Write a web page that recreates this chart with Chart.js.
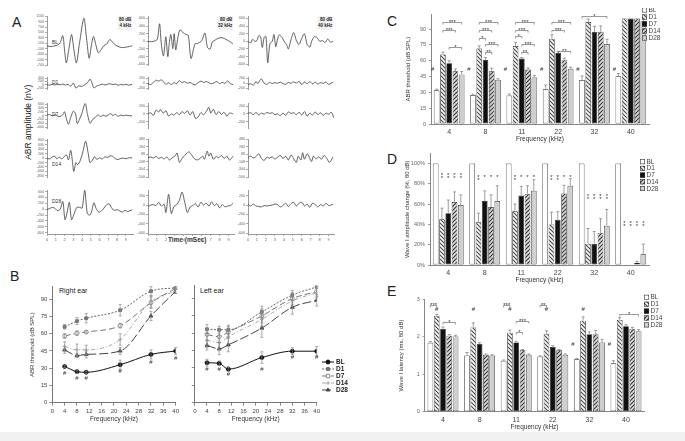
<!DOCTYPE html>
<html>
<head>
<meta charset="utf-8">
<script src="https://cdn.jsdelivr.net/npm/chart.js@4.4.0/dist/chart.umd.min.js"></script>
<style>
  body { margin: 0; width: 685px; height: 441px; position: relative; background: #fff; overflow: hidden;
         font-family: 'Liberation Sans', Arial, sans-serif; color: #222; }
  canvas { position: absolute; }
  .t { position: absolute; white-space: nowrap; line-height: 1; }
  .letter { font-size: 14px; }
  .rot { position: absolute; text-align: center; transform: rotate(-90deg); white-space: nowrap; line-height: 1; }
</style>
</head>
<body>
<div style="position:absolute;left:0;top:432px;width:685px;height:9px;background:#f1f1f1"></div>

<div class="t letter" style="left:12px;top:15px">A</div>
<div class="t letter" style="left:10px;top:269px">B</div>
<div class="t letter" style="left:387px;top:14px">C</div>
<div class="t letter" style="left:387px;top:152px">D</div>
<div class="t letter" style="left:387px;top:284px">E</div>

<div class="rot" style="left:-22px;top:118px;width:100px;font-size:8.5px">ABR amplitude (nV)</div>
<div class="t" style="left:168px;top:237px;font-size:6.5px;font-weight:bold;color:#333">Time (mSec)</div>

<div class="t" style="left:52px;top:40px;font-size:5px;color:#333">BL</div>
<div class="t" style="left:52px;top:80px;font-size:5px;color:#333">D1</div>
<div class="t" style="left:52px;top:112px;font-size:5px;color:#333">D7</div>
<div class="t" style="left:52px;top:162px;font-size:5px;color:#333">D14</div>
<div class="t" style="left:52px;top:199px;font-size:5px;color:#333">D28</div>

<div class="t" style="left:118px;top:16px;padding:1px;background:#f2f2f2;font-size:4.5px;font-weight:bold;text-align:right;line-height:6px">80 dB<br>4 kHz</div>
<div class="t" style="left:217px;top:16px;padding:1px;background:#f2f2f2;font-size:4.5px;font-weight:bold;text-align:right;line-height:6px">80 dB<br>32 kHz</div>
<div class="t" style="left:317px;top:16px;padding:1px;background:#f2f2f2;font-size:4.5px;font-weight:bold;text-align:right;line-height:6px">80 dB<br>40 kHz</div>

<div class="t" style="left:59px;top:287px;font-size:7px">Right ear</div>
<div class="t" style="left:200px;top:287px;font-size:7px">Left ear</div>

<script>
// ---------- data ----------
const groups = ['BL', 'D1', 'D7', 'D14', 'D28'];
const freqLabels = ['4', '8', '11', '22', '32', '40'];
const freqKHz = [4, 8, 11, 22, 32, 40];

// panel A traces, [time ms, amplitude nV]
const w4kBL = [[0,0],[0.5,-20],[0.9,10],[1.2,30],[1.5,120],[1.8,380],[2.0,-150],[2.2,-620],[2.5,-100],[2.8,420],[3.05,-100],[3.35,-620],[3.7,100],[4.2,1020],[4.5,300],[4.8,-450],[5.05,0],[5.3,350],[5.6,0],[5.85,-250],[6.2,-120],[6.5,20],[6.8,70],[7.15,240],[7.4,170],[7.7,60],[8.0,0],[8.3,-40],[8.6,-60],[9.0,-40],[9.4,-20],[9.7,10]];
const w4kD1 = [[0,20],[0.3,-20],[0.6,30],[0.9,-10],[1.2,20],[1.5,0],[1.8,40],[2.1,-10],[2.4,20],[2.7,-80],[3.0,100],[3.3,-200],[3.6,-60],[3.9,-100],[4.2,-30],[4.6,120],[4.9,330],[5.1,150],[5.35,-180],[5.7,-60],[6.0,-20],[6.3,40],[6.6,-10],[6.9,30],[7.2,60],[7.5,10],[7.8,40],[8.1,-30],[8.4,20],[8.7,-10],[9.0,30],[9.3,-20],[9.7,20]];
const w4kD7 = [[0,20],[0.3,60],[0.6,-20],[0.9,40],[1.2,-30],[1.5,-50],[1.8,50],[2.0,200],[2.2,-150],[2.45,-450],[2.7,-100],[3.0,230],[3.25,100],[3.45,-420],[3.7,-200],[4.0,150],[4.35,640],[4.6,100],[4.9,-400],[5.2,-200],[5.5,-100],[5.8,40],[6.1,-50],[6.4,20],[6.7,-30],[7.0,40],[7.3,100],[7.5,0],[7.8,60],[8.1,-40],[8.4,30],[8.7,-10],[9.0,20],[9.4,-10],[9.7,0]];
const w4kD14 = [[0,0],[0.3,-40],[0.6,50],[0.9,80],[1.1,-30],[1.4,40],[1.7,-30],[2.0,80],[2.2,150],[2.45,-80],[2.7,350],[2.9,-150],[3.05,-600],[3.3,-200],[3.5,-300],[3.8,-100],[4.1,300],[4.4,760],[4.7,200],[4.9,-200],[5.2,-80],[5.4,60],[5.7,-60],[6.0,10],[6.3,-40],[6.6,60],[6.9,30],[7.2,100],[7.5,80],[7.8,-40],[8.1,-60],[8.4,-20],[8.7,0],[9.0,-30],[9.4,20],[9.7,0]];
const w4kD28 = [[0,-10],[0.3,20],[0.6,60],[0.9,30],[1.2,-50],[1.5,0],[1.8,260],[2.05,-360],[2.3,-100],[2.55,230],[2.8,-360],[3.1,-150],[3.4,60],[3.7,60],[4.0,40],[4.3,650],[4.6,-150],[4.9,-200],[5.1,-60],[5.35,220],[5.6,20],[5.9,-100],[6.2,-60],[6.5,40],[6.8,150],[7.1,180],[7.4,20],[7.7,-40],[8.0,-20],[8.3,-60],[8.6,-100],[8.9,-40],[9.2,-80],[9.7,-20]];

const w32kBL = [[0,0],[0.4,-10],[0.8,14],[1.05,60],[1.29,460],[1.5,-100],[1.73,-380],[1.99,120],[2.21,-400],[2.4,0],[2.55,180],[2.77,-190],[2.92,200],[3.1,-220],[3.35,120],[3.58,300],[3.95,220],[4.2,185],[4.5,150],[4.8,-450],[5.24,-70],[5.53,-55],[5.98,14],[6.35,220],[6.64,-160],[6.94,-200],[7.16,-20],[7.38,14],[7.82,80],[8.27,95],[8.75,47],[9.22,-20],[9.48,-70]];
const w32kD1 = [[0,-20],[0.3,-60],[0.6,30],[0.9,120],[1.2,80],[1.5,130],[1.8,20],[2.0,-50],[2.3,10],[2.6,-60],[2.9,20],[3.2,-30],[3.5,100],[3.8,20],[4.1,60],[4.4,-10],[4.7,30],[5.0,-40],[5.3,-70],[5.6,20],[5.9,80],[6.2,30],[6.5,60],[6.8,10],[7.1,-30],[7.4,20],[7.7,60],[8.0,-20],[8.3,30],[8.6,-10],[8.9,90],[9.2,-30],[9.5,-60]];
const w32kD7 = [[0,-10],[0.3,30],[0.6,-40],[0.9,100],[1.2,50],[1.4,110],[1.7,20],[2.0,80],[2.3,-60],[2.6,0],[2.9,-30],[3.2,30],[3.5,-20],[3.8,60],[4.1,10],[4.4,80],[4.7,-30],[5.0,60],[5.3,-120],[5.6,-80],[5.9,30],[6.2,-20],[6.5,60],[6.8,170],[7.0,20],[7.3,120],[7.6,-20],[7.9,60],[8.2,-10],[8.5,40],[8.8,-60],[9.1,20],[9.5,0]];
const w32kD14 = [[0,0],[0.3,20],[0.6,-10],[0.9,30],[1.2,-20],[1.5,10],[1.8,-30],[2.1,20],[2.4,-60],[2.7,0],[3.0,40],[3.25,120],[3.5,-120],[3.8,-20],[4.1,60],[4.4,130],[4.6,150],[4.9,60],[5.2,-30],[5.5,-60],[5.8,-20],[6.1,40],[6.3,-40],[6.6,170],[6.8,40],[7.0,120],[7.3,-40],[7.6,30],[7.9,0],[8.2,60],[8.5,-20],[8.8,40],[9.1,-60],[9.5,40]];
const w32kD28 = [[0,-30],[0.3,0],[0.6,10],[0.9,-10],[1.2,60],[1.5,-20],[1.8,20],[2.0,-160],[2.3,230],[2.6,-180],[2.9,-30],[3.2,10],[3.5,100],[3.8,280],[4.1,60],[4.4,-160],[4.7,-40],[5.0,-10],[5.3,30],[5.6,-40],[5.9,60],[6.2,0],[6.5,40],[6.8,-20],[7.1,70],[7.4,-10],[7.7,30],[8.0,-60],[8.3,10],[8.6,-40],[8.9,-20],[9.2,-10],[9.5,40]];

const w40kBL = [[0,0],[0.3,-40],[0.5,50],[0.8,0],[1.0,20],[1.2,150],[1.4,120],[1.6,-160],[1.8,100],[2.0,130],[2.2,-560],[2.45,-60],[2.7,0],[2.9,180],[3.1,-140],[3.3,60],[3.5,170],[3.8,100],[4.1,-20],[4.3,-80],[4.5,-200],[4.8,40],[5.1,230],[5.4,20],[5.7,-80],[6.0,80],[6.3,200],[6.6,-80],[6.9,-150],[7.1,0],[7.4,120],[7.7,100],[8.0,0],[8.3,20],[8.6,-30],[8.9,60],[9.2,-20],[9.5,0]];
const w40kD1 = [[0,-60],[0.3,-30],[0.6,-80],[0.9,60],[1.1,-20],[1.3,100],[1.5,170],[1.7,40],[1.9,-20],[2.1,-50],[2.4,30],[2.7,-20],[3.0,20],[3.3,-10],[3.6,40],[3.9,-20],[4.2,-50],[4.5,30],[4.8,-10],[5.1,50],[5.4,0],[5.7,70],[6.0,-60],[6.3,40],[6.6,-20],[6.9,60],[7.2,-30],[7.5,30],[7.8,-40],[8.1,20],[8.4,-10],[8.7,40],[9.0,-50],[9.5,40]];
const w40kD7 = [[0,10],[0.3,30],[0.6,-20],[0.9,40],[1.2,-30],[1.5,20],[1.8,-10],[2.1,40],[2.4,10],[2.7,30],[3.0,-20],[3.3,0],[3.6,-50],[3.9,20],[4.2,-40],[4.5,50],[4.8,10],[5.1,30],[5.4,-20],[5.7,40],[6.0,-30],[6.3,60],[6.6,-60],[6.9,20],[7.2,-30],[7.5,50],[7.8,-20],[8.1,30],[8.4,-40],[8.7,20],[9.0,-10],[9.3,40],[9.6,-110]];
const w40kD14 = [[0,0],[0.3,40],[0.6,-10],[0.9,30],[1.2,100],[1.5,-20],[1.8,-70],[2.1,10],[2.4,-10],[2.7,20],[3.0,-30],[3.3,10],[3.6,60],[3.9,-20],[4.2,40],[4.5,-60],[4.8,70],[5.1,-30],[5.4,-120],[5.6,40],[5.9,-60],[6.1,130],[6.3,-40],[6.6,100],[6.9,-20],[7.1,-100],[7.3,40],[7.6,-30],[7.9,20],[8.2,-40],[8.5,60],[8.8,-20],[9.1,-120],[9.5,20]];
const w40kD28 = [[0,10],[0.3,-20],[0.6,20],[0.9,-20],[1.2,-30],[1.5,-40],[1.8,-10],[2.1,-20],[2.4,-10],[2.7,0],[3.0,20],[3.3,10],[3.6,-40],[3.9,-10],[4.2,40],[4.5,-30],[4.8,30],[5.1,60],[5.4,-20],[5.7,40],[6.0,60],[6.3,-20],[6.6,20],[6.9,-50],[7.2,40],[7.5,10],[7.8,-40],[8.1,10],[8.4,-20],[8.7,40],[9.0,-10],[9.5,20]];

// panel B thresholds (dB SPL) and SEM
const rightBL = [31.5, 27, 26.5, 33, 42, 45];
const rightD1 = [66, 71, 73.5, 80.5, 97, 100];
const rightD7 = [58, 60.5, 61.5, 67, 87, 99.5];
const rightD14 = [49, 46, 46, 55, 88, 97];
const rightD28 = [46, 41, 42, 45, 75.5, 97];
const rightErr = [[1, 1.5, 1, 4, 4, 3], [2, 3, 4, 5, 4, 1], [2, 2, 1, 2, 5, 1], [4, 5, 4, 5, 5, 2], [3, 2, 3, 3, 4, 2]];
const leftBL = [34.5, 34, 29, 39, 44.5, 44.5];
const leftD1 = [63.5, 63, 63, 78.5, 93, 100];
const leftD7 = [59, 57, 61, 75, 90, 96];
const leftD14 = [54, 52, 57, 72, 88, 95];
const leftD28 = [49.5, 46.5, 50, 64.5, 82.5, 88.5];
const leftErr = [[3, 2, 2, 5, 3, 4], [4, 3, 4, 5, 4, 1], [5, 5, 5, 6, 5, 4], [6, 6, 6, 6, 5, 4], [4, 5, 6, 8, 6, 5]];

// panel C thresholds
const threshBL = [32, 27.5, 27, 33, 41.6, 45.3];
const threshD1 = [66, 71.5, 74, 80.7, 96.6, 100];
const threshD7 = [57.5, 61, 62, 67.3, 87.5, 100];
const threshD14 = [50, 50, 51.7, 61, 87.5, 100];
const threshD28 = [46.8, 42, 44, 52.3, 75.8, 97.5];
const threshErr = [[1, 0.8, 1.5, 4, 4, 2.5], [2, 2.5, 3.5, 4, 3, 0], [2.5, 2, 1, 1.5, 5, 0], [2, 3, 1.5, 1.5, 5.5, 0], [3, 1, 2, 1.5, 4.5, 1.5]];

// panel D wave I amplitude (% of BL)
const ampBL = [100, 100, 100, 100, 100, 100];
const ampD1 = [45, 42, 53, 40, 21, 0];
const ampD7 = [51, 63, 68.5, 44.5, 21, 0];
const ampD14 = [62, 57, 70, 70.5, 31.6, 2];
const ampD28 = [59, 63, 73, 78, 38.7, 10.6];
const ampErr = [[0, 0, 0, 0, 0, 0], [11, 9, 7, 12, 15, 0], [13, 10, 9, 8, 12, 0], [10, 12, 8, 8, 14, 1.5], [10, 15, 11, 7, 16, 10]];

// panel E wave I latency (ms)
const latBL = [1.84, 1.5, 1.36, 1.47, 1.4, 1.29];
const latD1 = [2.56, 2.25, 2.11, 2.08, 2.43, 2.45];
const latD7 = [2.21, 1.81, 1.85, 1.73, 2.07, 2.28];
const latD14 = [2.03, 1.52, 1.64, 1.64, 2.07, 2.21];
const latD28 = [2.01, 1.5, 1.52, 1.52, 1.85, 2.15];
const latErr = [[0.03, 0.08, 0.02, 0.02, 0.02, 0.07], [0.04, 0.12, 0.07, 0.08, 0.1, 0.06], [0.05, 0.03, 0.03, 0.03, 0.06, 0.04], [0.03, 0.02, 0.02, 0.02, 0.1, 0.04], [0.03, 0.02, 0.02, 0.02, 0.08, 0.04]];

// significance marks: [group, fromSeries, toSeries, level, text]
const threshBrackets = [[0,1,4,96.6,'***'],[0,1,3,89,'***'],[0,2,4,72.8,'*'],
  [1,1,4,96.6,'***'],[1,1,3,89,'***'],[1,1,2,82,'*'],[1,2,4,76,'***'],[1,2,3,68.5,'**'],
  [2,1,4,96.6,'***'],[2,1,3,89,'***'],[2,1,2,83,'*'],[2,2,4,76,'***'],[2,2,3,68.5,'**'],
  [3,1,4,96.6,'***'],[3,1,3,89,'***'],[3,2,4,69,'**'],[4,0,4,102.5,'*']];
const threshHashes = [[0,0,52],[1,0,52],[2,0,52],[3,0,52],[4,0,52],[5,0,52]];
// [group, series, number of stacked asterisks, level]
const ampStars = [[0,1,2,90],[0,2,2,90],[0,3,2,90],[0,4,2,90],
  [1,1,2,88],[1,2,1,88],[1,3,1,88],[1,4,1,88],
  [2,1,2,88],[2,2,1,88],[2,3,1,88],[2,4,1,88],
  [3,1,2,88],[3,2,2,88],[3,3,1,88],[3,4,1,88],
  [4,1,2,69],[4,2,2,69],[4,3,2,69],[4,4,2,69],
  [5,1,2,42],[5,2,2,42],[5,3,2,42],[5,4,2,42]];
const latBrackets = [[0,0,1,2.84,'***'],[0,2,4,2.39,'*'],[2,0,1,2.84,'***'],[2,2,4,2.42,'***'],[2,2,3,2.13,'*'],[3,0,1,2.84,'**'],[5,1,4,2.62,'*']];
const latHashes = [[0,1,2.72],[1,1,2.72],[2,1,2.72],[3,1,2.72],[4,1,2.72],[4,0,1.79],[5,0,1.79]];
const rightHashes = [[4,25.5],[8,21],[11,21],[22,27],[32,35.5],[40,39]];
const leftHashes = [[4,29],[8,29],[11,24.5],[22,29],[32,39],[40,39]];

// ---------- helpers ----------
const FONT = "'Liberation Sans', Arial, sans-serif";
Chart.defaults.font.family = FONT;
Chart.defaults.animation = false;
Chart.defaults.events = [];
Chart.defaults.plugins.legend.display = false;
Chart.defaults.plugins.tooltip.enabled = false;

function hatch(dir, line, bg) {
  const c = document.createElement('canvas');
  c.width = 4; c.height = 4;
  const g = c.getContext('2d');
  g.fillStyle = bg; g.fillRect(0, 0, 4, 4);
  g.strokeStyle = line; g.lineWidth = 1.1;
  g.beginPath();
  if (dir > 0) { g.moveTo(-1, 5); g.lineTo(5, -1); g.moveTo(-1, 1); g.lineTo(1, -1); g.moveTo(3, 5); g.lineTo(5, 3); }
  else { g.moveTo(-1, -1); g.lineTo(5, 5); g.moveTo(-1, 3); g.lineTo(1, 5); g.moveTo(3, -1); g.lineTo(5, 1); }
  g.stroke();
  return g.createPattern(c, 'repeat');
}
const barFills = ['#ffffff', hatch(-1, '#444', '#fff'), '#111111', hatch(1, '#333', '#ddd'), '#cfcfcf'];

function addCanvas(left, top, w, h) {
  const cv = document.createElement('canvas');
  cv.width = w; cv.height = h;
  cv.style.left = left + 'px'; cv.style.top = top + 'px';
  document.body.appendChild(cv);
  return cv;
}

const errPlugin = {
  id: 'errbars',
  afterDatasetsDraw(chart, args, opts) {
    const ctx = chart.ctx;
    ctx.save();
    ctx.strokeStyle = opts.color || '#666';
    ctx.lineWidth = 0.7;
    chart.data.datasets.forEach((ds, di) => {
      if (!ds.errs) return;
      const meta = chart.getDatasetMeta(di);
      const ys = chart.scales[meta.yAxisID];
      meta.data.forEach((el, i) => {
        const e = ds.errs[i];
        if (!e) return;
        const v = meta.controller.getParsed(i).y;
        const yt = ys.getPixelForValue(v + e);
        const yb = opts.both ? ys.getPixelForValue(v - e) : el.y;
        const cap = opts.cap || 1.5;
        ctx.beginPath();
        ctx.moveTo(el.x, yb); ctx.lineTo(el.x, yt);
        ctx.moveTo(el.x - cap, yt); ctx.lineTo(el.x + cap, yt);
        if (opts.both) { ctx.moveTo(el.x - cap, yb); ctx.lineTo(el.x + cap, yb); }
        ctx.stroke();
      });
    });
    ctx.restore();
  }
};

const marksPlugin = {
  id: 'marks',
  afterDatasetsDraw(chart, args, opts) {
    const ctx = chart.ctx, ys = chart.scales.y, xs = chart.scales.x;
    const bx = (s, i) => chart.getDatasetMeta(s).data[i].x;
    ctx.save();
    ctx.fillStyle = '#333'; ctx.strokeStyle = '#555'; ctx.lineWidth = 0.6;
    ctx.font = '6px ' + FONT; ctx.textAlign = 'center'; ctx.textBaseline = 'alphabetic';
    (opts.brackets || []).forEach(([i, s1, s2, v, txt]) => {
      const x1 = bx(s1, i), x2 = bx(s2, i), y = Math.round(ys.getPixelForValue(v)) + 0.5;
      ctx.beginPath();
      ctx.moveTo(x1, y + 2); ctx.lineTo(x1, y); ctx.lineTo(x2, y); ctx.lineTo(x2, y + 2);
      ctx.stroke();
      ctx.fillText(txt, (x1 + x2) / 2, y + 1.5);
    });
    ctx.textBaseline = 'middle';
    (opts.hashes || []).forEach(([i, s, v]) => {
      const dx = s === 0 && opts.hashLeft ? -4 : 0;
      ctx.fillText('#', bx(s, i) + dx, ys.getPixelForValue(v));
    });
    (opts.pointHashes || []).forEach(([xv, v]) => {
      ctx.fillText('#', xs.getPixelForValue(xv), ys.getPixelForValue(v));
    });
    ctx.textBaseline = 'alphabetic';
    (opts.stars || []).forEach(([i, s, n, v]) => {
      const y = ys.getPixelForValue(v);
      for (let k = 0; k < n; k++) ctx.fillText('*', bx(s, i), y + 3 + k * 3);
    });
    ctx.restore();
  }
};

const boxLegend = {
  id: 'boxLegend',
  afterDraw(chart, args, opts) {
    if (opts.x === undefined) return;
    const ctx = chart.ctx;
    const ox = parseFloat(chart.canvas.style.left), oy = parseFloat(chart.canvas.style.top);
    ctx.save();
    ctx.font = '6.5px ' + FONT; ctx.textBaseline = 'middle'; ctx.textAlign = 'left';
    chart.data.datasets.forEach((ds, i) => {
      const x = opts.x - ox, y = opts.y - oy + i * opts.step;
      ctx.fillStyle = ds.backgroundColor;
      ctx.fillRect(x, y - 2.5, 5, 5);
      ctx.strokeStyle = '#333'; ctx.lineWidth = 0.6;
      ctx.strokeRect(x + 0.3, y - 2.2, 4.4, 4.4);
      ctx.fillStyle = '#444';
      ctx.fillText(ds.label, x + 6.5, y + 0.3);
    });
    ctx.restore();
  }
};

const lineLegend = {
  id: 'lineLegend',
  afterDraw(chart, args, opts) {
    if (opts.x === undefined) return;
    const ctx = chart.ctx;
    const ox = parseFloat(chart.canvas.style.left), oy = parseFloat(chart.canvas.style.top);
    ctx.save();
    ctx.font = 'bold 6.5px ' + FONT; ctx.textBaseline = 'middle';
    chart.data.datasets.forEach((ds, i) => {
      const x = opts.x - ox, y = opts.y - oy + i * opts.step;
      ctx.strokeStyle = ds.borderColor; ctx.lineWidth = 1;
      ctx.setLineDash(ds.borderDash || []);
      ctx.beginPath(); ctx.moveTo(x, y); ctx.lineTo(x + 12, y); ctx.stroke();
      ctx.setLineDash([]);
      ctx.fillStyle = ds.pointBackgroundColor;
      Chart.helpers.drawPoint(ctx, { pointStyle: ds.pointStyle, radius: 2, rotation: 0, borderWidth: 1 }, x + 6, y);
      ctx.fillStyle = '#222';
      ctx.fillText(ds.label, x + 14, y + 0.3);
    });
    ctx.restore();
  }
};

Chart.register(errPlugin, marksPlugin, boxLegend, lineLegend);

// ---------- panel A ----------
const rowTops = [16, 77, 103, 139, 190];
const rowBots = [75, 99, 138, 187, 234];
const waveCols = [
  { axisX: 47, xMax: 9.8, rows: [[w4kBL, -700, 1100], [w4kD1, -250, 450], [w4kD7, -650, 650], [w4kD14, -850, 850], [w4kD28, -850, 650]] },
  { axisX: 148, xMax: 9.6, rows: [[w32kBL, -620, 660], [w32kD1, -240, 240], [w32kD7, -370, 280], [w32kD14, -500, 480], [w32kD28, -620, 320]] },
  { axisX: 248, xMax: 9.6, rows: [[w40kBL, -620, 660], [w40kD1, -240, 240], [w40kD7, -370, 280], [w40kD14, -500, 480], [w40kD28, -620, 320]] }
];

waveCols.forEach(col => {
  col.rows.forEach(([trace, yMin, yMax], r) => {
    const last = r === 4;
    const yw = 18;
    const cv = addCanvas(col.axisX - yw, rowTops[r] - 3, yw + 86 + 2, rowBots[r] - rowTops[r] + 3 + (last ? 10 : 3));
    new Chart(cv, {
      type: 'line',
      data: { datasets: [{ data: trace.map(p => ({ x: p[0], y: p[1] })), borderColor: '#3a3a3a', borderWidth: 0.8, pointRadius: 0, tension: 0.3 }] },
      options: {
        responsive: false,
        layout: { padding: { top: 3, right: 2, bottom: last ? 0 : 3, left: 0 } },
        scales: {
          x: { type: 'linear', min: 0, max: col.xMax, display: last,
               ticks: { stepSize: 1, includeBounds: false, autoSkip: false, maxRotation: 0, font: { size: 4 }, color: '#666', padding: 1 },
               grid: { drawOnChartArea: false, tickLength: 2, color: '#aaa' }, border: { color: '#999' },
               afterFit: s => { s.height = 10; } },
          y: { min: yMin, max: yMax,
               ticks: { stepSize: 200, includeBounds: false, autoSkip: false, font: { size: 3.6 }, color: '#666', padding: 1, callback: v => String(v) },
               grid: { drawOnChartArea: false, tickLength: 2, color: '#aaa' }, border: { color: '#999' },
               afterFit: s => { s.width = yw; } }
        }
      }
    });
  });
});

// ---------- panel B ----------
const lineStyles = [
  { borderColor: '#111', borderDash: [], pointStyle: 'circle', pointBackgroundColor: '#111', pointRadius: 2 },
  { borderColor: '#666', borderDash: [2, 1.5], pointStyle: 'rect', pointBackgroundColor: '#777', pointRadius: 2 },
  { borderColor: '#777', borderDash: [6, 3], pointStyle: 'circle', pointBackgroundColor: '#fff', pointRadius: 2 },
  { borderColor: '#aaa', borderDash: [4, 2, 1, 2], pointStyle: 'cross', pointBackgroundColor: '#aaa', pointRadius: 2 },
  { borderColor: '#444', borderDash: [9, 3], pointStyle: 'triangle', pointBackgroundColor: '#444', pointRadius: 2.3 }
];

function earChart(left, width, yw, padRight, series, errs, showLabels, hashes, legend) {
  const cv = addCanvas(left, 281, width, 144);
  new Chart(cv, {
    type: 'line',
    data: {
      datasets: series.map((s, i) => Object.assign({
        label: groups[i],
        data: freqKHz.map((f, j) => ({ x: f, y: s[j] })),
        errs: errs[i], borderWidth: 1, pointBorderWidth: 0.8,
        cubicInterpolationMode: 'monotone', pointBorderColor: lineStyles[i].borderColor
      }, lineStyles[i]))
    },
    options: {
      responsive: false,
      layout: { padding: { top: 4.5, right: padRight, bottom: 0, left: 0 } },
      scales: {
        x: { type: 'linear', min: 0, max: 40,
             ticks: { stepSize: 4, autoSkip: false, maxRotation: 0, font: { size: 6 }, color: '#444', padding: 2 },
             grid: { drawOnChartArea: false, tickLength: 3, color: '#888' }, border: { color: '#777' },
             title: { display: true, text: 'Frequency (kHz)', font: { size: 6.5 }, color: '#333', padding: { top: 0, bottom: 2 } },
             afterFit: s => { s.height = 22.3; } },
        y: { min: 0, max: 101,
             ticks: { stepSize: 15, includeBounds: false, display: showLabels, font: { size: 6 }, color: '#444', padding: 2 },
             grid: { drawOnChartArea: false, tickLength: 3, color: '#888' }, border: { color: '#777' },
             title: { display: showLabels, text: 'ABR threshold (dB SPL)', font: { size: 6 }, color: '#333', padding: { top: 4, bottom: 2 } },
             afterFit: s => { s.width = yw; } }
      },
      plugins: {
        errbars: { both: true, cap: 1.5, color: '#888' },
        marks: { pointHashes: hashes },
        lineLegend: legend
      }
    }
  });
}
earChart(25, 156, 27.3, 4.3, [rightBL, rightD1, rightD7, rightD14, rightD28], rightErr, true, rightHashes, {});
earChart(190, 170, 2.7, 43.3, [leftBL, leftD1, leftD7, leftD14, leftD28], leftErr, false, leftHashes, { x: 322, y: 362, step: 7 });

// ---------- panels C, D, E ----------
function barChart(c) {
  const cv = addCanvas(c.left, c.top, c.w, c.h);
  new Chart(cv, {
    type: 'bar',
    data: {
      labels: freqLabels,
      datasets: c.series.map((s, i) => ({
        label: groups[i], data: s, errs: c.errs[i],
        backgroundColor: barFills[i], borderColor: '#222', borderWidth: 0.7, borderSkipped: false,
        barPercentage: 0.9, categoryPercentage: 0.86
      }))
    },
    options: {
      responsive: false,
      layout: { padding: { top: c.padTop, right: c.padRight, bottom: 0, left: 0 } },
      scales: {
        x: { ticks: { font: { size: 7 }, color: '#444', padding: 4 },
             grid: { display: false, drawTicks: false, tickLength: 0 }, border: { color: '#888' },
             title: { display: true, text: 'Frequency (kHz)', font: { size: 6.5 }, color: '#333', padding: { top: 0, bottom: 2 } },
             afterFit: s => { s.height = c.xh; } },
        y: { min: 0, max: c.yMax,
             ticks: { stepSize: c.step, includeBounds: false, font: { size: 5.5 }, color: '#666', padding: 3, callback: c.fmt },
             grid: { drawOnChartArea: false, tickLength: 2, color: '#999' }, border: { color: '#888' },
             title: { display: true, text: c.yTitle, font: { size: 6 }, color: '#333', padding: { top: 4, bottom: 2 } },
             afterFit: s => { s.width = c.yw; } }
      },
      plugins: {
        errbars: { both: false, cap: 1.5, color: '#777' },
        marks: c.marks,
        boxLegend: c.legend
      }
    }
  });
}

barChart({ left: 401, top: 8, w: 284, h: 137, padTop: 4, padRight: 36, yw: 30, xh: 21,
  series: [threshBL, threshD1, threshD7, threshD14, threshD28], errs: threshErr,
  yMax: 104, step: 15, fmt: v => v, yTitle: 'ABR threshold (dB SPL)',
  marks: { brackets: threshBrackets, hashes: threshHashes, hashLeft: true },
  legend: { x: 642, y: 10, step: 7 } });

barChart({ left: 400, top: 147, w: 285, h: 139, padTop: 4.4, padRight: 36, yw: 30, xh: 21,
  series: [ampBL, ampD1, ampD7, ampD14, ampD28], errs: ampErr,
  yMax: 110, step: 20, fmt: v => v + '%', yTitle: 'Wave I amplitude change (%, 80 dB)',
  marks: { stars: ampStars },
  legend: { x: 640, y: 161.7, step: 6.7 } });

barChart({ left: 394, top: 293, w: 291, h: 140, padTop: 4.3, padRight: 40.7, yw: 30.7, xh: 21.3,
  series: [latBL, latD1, latD7, latD14, latD28], errs: latErr,
  yMax: 3, step: 1, fmt: v => v, yTitle: 'Wave I latency (ms, 80 dB)',
  marks: { brackets: latBrackets, hashes: latHashes, hashLeft: true },
  legend: { x: 644, y: 297.3, step: 6.9 } });
</script>
</body>
</html>
